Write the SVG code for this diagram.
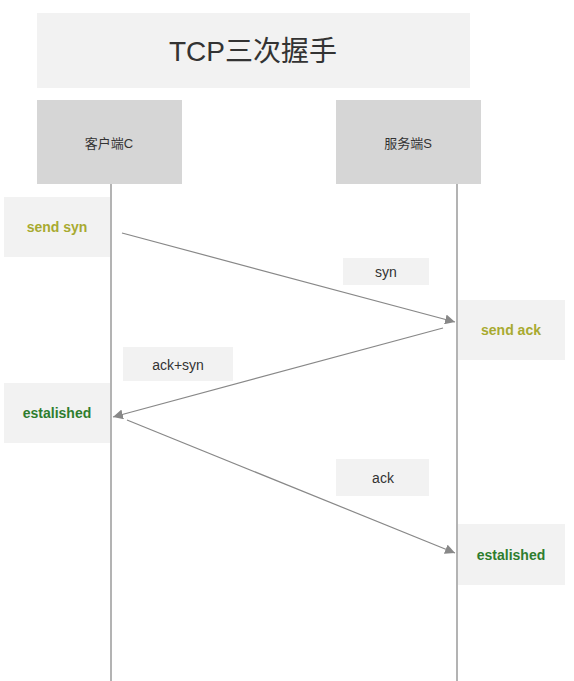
<svg xmlns="http://www.w3.org/2000/svg" width="574" height="681" viewBox="0 0 574 681">
<defs>
<style>
text{font-family:"Liberation Sans","Noto Sans CJK SC",sans-serif;text-anchor:middle;dominant-baseline:central}
.light{fill:#f2f2f2}
.actor{fill:#d6d6d6}
.life{stroke:#9a9a9a;stroke-width:1.5;fill:none}
.msg{stroke:#888;stroke-width:1.2;fill:none;marker-end:url(#ah)}
.lbl{font-size:14px;fill:#333}
.olive{font-size:14px;font-weight:bold;fill:#a8aa30}
.green{font-size:14px;font-weight:bold;fill:#2e7d2e}
</style>
<marker id="ah" viewBox="0 0 10 10" refX="10" refY="5" markerWidth="10" markerHeight="10" markerUnits="userSpaceOnUse" orient="auto">
<path d="M0,0 L10,5 L0,10 z" fill="#888"/>
</marker>
</defs>
<rect width="574" height="681" fill="#fff"/>
<g id="title"><rect class="light" x="37" y="13" width="433" height="75"/><text x="253" y="51" style="font-size:28px;fill:#333">TCP三次握手</text></g>
<g id="lifelines">
<line class="life" x1="111" y1="184" x2="111" y2="681"/>
<line class="life" x1="457" y1="184" x2="457" y2="681"/>
</g>
<g id="client"><rect class="actor" x="37" y="100" width="145" height="84"/><text class="lbl" x="109" y="143" style="font-size:13px">客户端C</text></g>
<g id="server"><rect class="actor" x="336" y="100" width="145" height="84"/><text class="lbl" x="408" y="143" style="font-size:13px">服务端S</text></g>
<g id="send-syn"><rect class="light" x="4" y="197" width="106" height="60"/><text class="olive" x="57" y="227">send syn</text></g>
<g id="send-ack"><rect class="light" x="458" y="300" width="107" height="60"/><text class="olive" x="511" y="330">send ack</text></g>
<g id="est-client"><rect class="light" x="4" y="383" width="106" height="60"/><text class="green" x="57" y="413">estalished</text></g>
<g id="est-server"><rect class="light" x="458" y="524" width="107" height="61"/><text class="green" x="511" y="555">estalished</text></g>
<g id="lbl-syn"><rect class="light" x="343" y="258" width="86" height="27"/><text class="lbl" x="386" y="272">syn</text></g>
<g id="lbl-acksyn"><rect class="light" x="123" y="347" width="110" height="34"/><text class="lbl" x="178" y="365">ack+syn</text></g>
<g id="lbl-ack"><rect class="light" x="336" y="459" width="93" height="37"/><text class="lbl" x="383" y="478">ack</text></g>
<g id="connectors">
<line class="msg" x1="122" y1="233" x2="455" y2="322"/>
<line class="msg" x1="443" y1="328" x2="113" y2="417"/>
<line class="msg" x1="127" y1="420" x2="455" y2="553"/>
</g>
</svg>
